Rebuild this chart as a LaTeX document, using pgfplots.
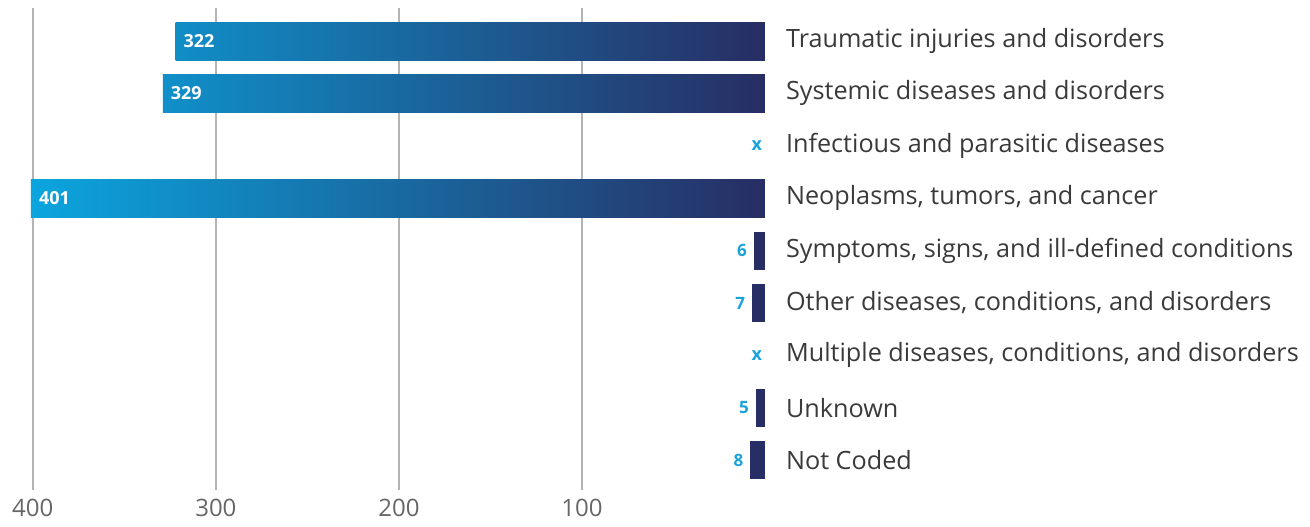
\documentclass[border=0pt]{standalone}
\usepackage{fontspec}
\setmainfont{Open Sans}
\usepackage{pgfplots}
\pgfplotsset{compat=1.18}

\definecolor{barlight}{HTML}{0BA5DF}
\definecolor{bardark}{HTML}{272E63}
\definecolor{valblue}{HTML}{1AA3DA}
\definecolor{labelgray}{HTML}{3A3A3A}
\definecolor{tickgray}{HTML}{666666}
\definecolor{gridgray}{HTML}{B4B4B4}

% one horizontal bar; the gradient runs along the whole value axis,
% so each bar's left colour is the blend at its own value
\pgfplotsset{
  onebar/.style={xbar, bar width=19pt, bar shift=0pt, draw=none},
  inlabel/.style={nodes near coords, point meta=x,
    nodes near coords style={anchor=west, xshift=0.5pt, text=white,
      font=\fontsize{9}{11}\selectfont\bfseries}},
  outlabel/.style={nodes near coords, point meta=x,
    nodes near coords style={anchor=east, xshift=0pt, text=valblue,
      font=\fontsize{8.5}{10}\selectfont\bfseries}},
}

\begin{document}
\begin{tikzpicture}
% page frame around the axis box (whose lower left corner sits at the origin)
\useasboundingbox (-15.5pt,-18pt) rectangle (639.5pt,245pt);
\begin{axis}[
  at={(0,0)}, anchor=south west,
  scale only axis, width=367pt, height=241pt,
  x dir=reverse, y dir=reverse,
  xmin=0, xmax=401, ymin=-0.63, ymax=8.57,
  axis line style={draw=none},
  major tick length=0pt,
  xtick={100,200,300,400},
  xmajorgrids, grid style={gridgray, line width=0.7pt},
  xticklabel style={font=\fontsize{12}{14}\selectfont, text=tickgray, yshift=-1pt},
  /pgf/number format/assume math mode=true,
  ytick={0,...,8},
  yticklabels={Traumatic injuries and disorders,
    Systemic diseases and disorders,
    Infectious and parasitic diseases,
    {Neoplasms, tumors, and cancer},
    {Symptoms, signs, and ill-defined conditions},
    {Other diseases, conditions, and disorders},
    {Multiple diseases, conditions, and disorders},
    Unknown, Not Coded},
  yticklabel pos=right,
  yticklabel style={anchor=west, xshift=7pt, font=\fontsize{12.6}{14}\selectfont, text=labelgray},
  clip=false,
]
% large counts, label inside the bar
\addplot[onebar, left color=barlight!80.3!bardark, right color=bardark, inlabel]
  coordinates {(322,0)};
\addplot[onebar, left color=barlight!82.0!bardark, right color=bardark, inlabel]
  coordinates {(329,1)};
\addplot[onebar, left color=barlight, right color=bardark, inlabel]
  coordinates {(401,3)};
% small counts, label beside the bar
\addplot[onebar, fill=bardark, outlabel] coordinates {(6,4)};
\addplot[onebar, fill=bardark, outlabel] coordinates {(7,5)};
\addplot[onebar, fill=bardark, outlabel] coordinates {(5,7)};
\addplot[onebar, fill=bardark, outlabel] coordinates {(8,8)};
% suppressed counts
\addplot[draw=none, mark=none, nodes near coords={x},
  nodes near coords style={anchor=east, xshift=2pt, text=valblue,
    font=\fontsize{9}{11}\selectfont\bfseries}]
  coordinates {(0,2) (0,6)};
\end{axis}
\end{tikzpicture}
\end{document}
